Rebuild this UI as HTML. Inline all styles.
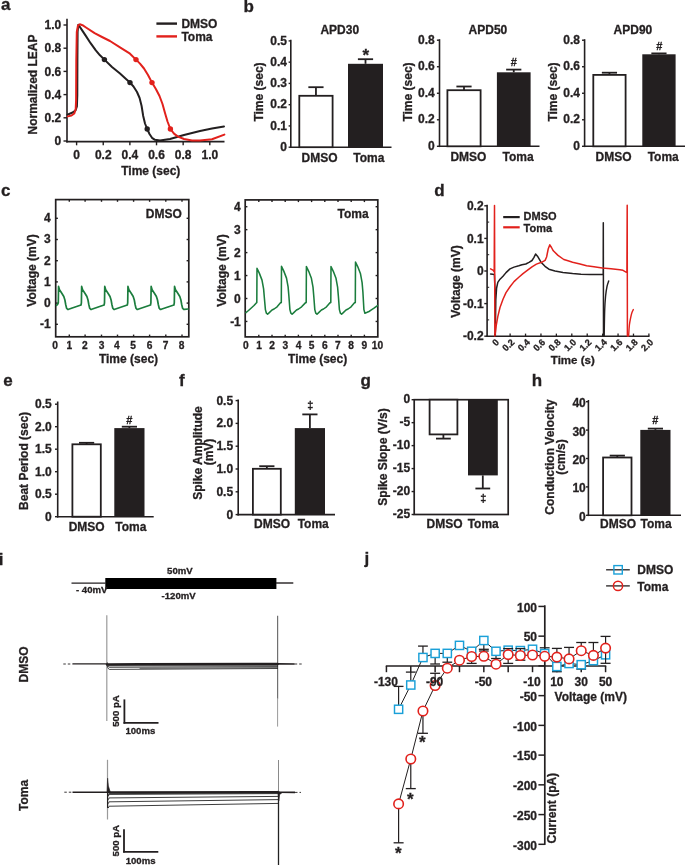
<!DOCTYPE html>
<html><head><meta charset="utf-8"><title>Figure</title>
<style>
html,body{margin:0;padding:0;background:#fff;}
body{width:685px;height:865px;overflow:hidden;}
svg{display:block;filter:blur(0.4px);font-family:"Liberation Sans",sans-serif;}
text{stroke:#231f20;stroke-width:0.3px;paint-order:stroke;}
</style></head><body>
<svg width="685" height="865" viewBox="0 0 685 865">
<rect width="685" height="865" fill="#fff"/>
<text x="1.1" y="9.8" font-size="17" text-anchor="start" font-weight="bold" fill="#231f20" >a</text>
<line x1="67" y1="18.8" x2="67" y2="142.4" stroke="#231f20" stroke-width="1.6" />
<line x1="66.2" y1="141.6" x2="224.5" y2="141.6" stroke="#231f20" stroke-width="1.6" />
<line x1="63.5" y1="141" x2="67" y2="141" stroke="#231f20" stroke-width="1.4" />
<text x="61.3" y="145.1" font-size="12" text-anchor="end" font-weight="bold" fill="#231f20" >0</text>
<line x1="63.5" y1="117.8" x2="67" y2="117.8" stroke="#231f20" stroke-width="1.4" />
<text x="61.3" y="121.9" font-size="12" text-anchor="end" font-weight="bold" fill="#231f20" >0.2</text>
<line x1="63.5" y1="94.6" x2="67" y2="94.6" stroke="#231f20" stroke-width="1.4" />
<text x="61.3" y="98.7" font-size="12" text-anchor="end" font-weight="bold" fill="#231f20" >0.4</text>
<line x1="63.5" y1="71.4" x2="67" y2="71.4" stroke="#231f20" stroke-width="1.4" />
<text x="61.3" y="75.5" font-size="12" text-anchor="end" font-weight="bold" fill="#231f20" >0.6</text>
<line x1="63.5" y1="48.2" x2="67" y2="48.2" stroke="#231f20" stroke-width="1.4" />
<text x="61.3" y="52.3" font-size="12" text-anchor="end" font-weight="bold" fill="#231f20" >0.8</text>
<line x1="63.5" y1="25" x2="67" y2="25" stroke="#231f20" stroke-width="1.4" />
<text x="61.3" y="29.1" font-size="12" text-anchor="end" font-weight="bold" fill="#231f20" >1.0</text>
<line x1="76.6" y1="141.6" x2="76.6" y2="145.3" stroke="#231f20" stroke-width="1.4" />
<text x="76.6" y="159.3" font-size="12" text-anchor="middle" font-weight="bold" fill="#231f20" >0</text>
<line x1="103.24" y1="141.6" x2="103.24" y2="145.3" stroke="#231f20" stroke-width="1.4" />
<text x="103.24" y="159.3" font-size="12" text-anchor="middle" font-weight="bold" fill="#231f20" >0.2</text>
<line x1="129.88" y1="141.6" x2="129.88" y2="145.3" stroke="#231f20" stroke-width="1.4" />
<text x="129.88" y="159.3" font-size="12" text-anchor="middle" font-weight="bold" fill="#231f20" >0.4</text>
<line x1="156.52" y1="141.6" x2="156.52" y2="145.3" stroke="#231f20" stroke-width="1.4" />
<text x="156.52" y="159.3" font-size="12" text-anchor="middle" font-weight="bold" fill="#231f20" >0.6</text>
<line x1="183.16" y1="141.6" x2="183.16" y2="145.3" stroke="#231f20" stroke-width="1.4" />
<text x="183.16" y="159.3" font-size="12" text-anchor="middle" font-weight="bold" fill="#231f20" >0.8</text>
<line x1="209.8" y1="141.6" x2="209.8" y2="145.3" stroke="#231f20" stroke-width="1.4" />
<text x="209.8" y="159.3" font-size="12" text-anchor="middle" font-weight="bold" fill="#231f20" >1.0</text>
<text x="150.8" y="175.2" font-size="12" text-anchor="middle" font-weight="bold" fill="#231f20" >Time (sec)</text>
<text x="37.3" y="84.5" font-size="12" text-anchor="middle" font-weight="bold" fill="#231f20" transform="rotate(-90 37.3 84.5)" >Normalized LEAP</text>
<polyline points="67.5,114.6 72,112.8 75.5,110.5 76.9,106.5 77.3,95 77.4,60 77.6,32 78.3,24.8 80,27.2 82.5,30.9 85.5,35.4 90.6,43.2 95.8,50.4 100,55.3 104.4,59.6 112,67 120,73.6 126,79 130,82.6 133.5,86.5 137,92 139.6,98 141.6,106 143.2,116 145,123.5 147.2,129 149.5,134 152,137.8 155,139.8 160,140.5 170,139 184,135 200,131 212,128.6 224,126.4" fill="none" stroke="#231f20" stroke-width="2.0" stroke-linejoin="round" stroke-linecap="round" />
<polyline points="67.8,116.4 71.5,115.5 74.3,113.5 75.7,109 76.1,100 76.3,60 76.8,32 78,25.5 79.8,24.3 82.5,25.2 86,27.5 94.6,33.2 102,37 110,41 120,47.3 130,53.7 136,59.6 140,63.6 144,68.5 148,75 152,82.6 156,89.2 159.5,96 162.5,104 165,113 167.5,121.5 170.4,129 174,133.6 178,136.6 184,139 192,140.4 200,140.6 212,139.2 224.4,134.6" fill="none" stroke="#e2211c" stroke-width="2.0" stroke-linejoin="round" stroke-linecap="round" />
<circle cx="104.4" cy="59.6" r="2.7" fill="#231f20" stroke="none" stroke-width="0"/>
<circle cx="130" cy="82.6" r="2.7" fill="#231f20" stroke="none" stroke-width="0"/>
<circle cx="147.2" cy="129" r="2.7" fill="#231f20" stroke="none" stroke-width="0"/>
<circle cx="136" cy="59.6" r="2.7" fill="#e2211c" stroke="none" stroke-width="0"/>
<circle cx="152" cy="82.6" r="2.7" fill="#e2211c" stroke="none" stroke-width="0"/>
<circle cx="170.4" cy="129" r="2.7" fill="#e2211c" stroke="none" stroke-width="0"/>
<line x1="156.4" y1="23.6" x2="177" y2="23.6" stroke="#231f20" stroke-width="2.4" />
<line x1="156.4" y1="36.4" x2="177" y2="36.4" stroke="#e2211c" stroke-width="2.4" />
<text x="181.4" y="27.6" font-size="12" text-anchor="start" font-weight="bold" fill="#231f20" >DMSO</text>
<text x="181.4" y="41" font-size="12" text-anchor="start" font-weight="bold" fill="#231f20" >Toma</text>
<text x="243.5" y="12.4" font-size="17" text-anchor="start" font-weight="bold" fill="#231f20" >b</text>
<line x1="290.8" y1="39.7" x2="290.8" y2="148" stroke="#231f20" stroke-width="1.6" />
<line x1="290" y1="147.2" x2="391.5" y2="147.2" stroke="#231f20" stroke-width="1.6" />
<line x1="288.6" y1="147.2" x2="290.8" y2="147.2" stroke="#231f20" stroke-width="1.4" />
<text x="286.9" y="150.9" font-size="12" text-anchor="end" font-weight="bold" fill="#231f20" >0</text>
<line x1="288.6" y1="125.94" x2="290.8" y2="125.94" stroke="#231f20" stroke-width="1.4" />
<text x="286.9" y="129.64" font-size="12" text-anchor="end" font-weight="bold" fill="#231f20" >0.1</text>
<line x1="288.6" y1="104.68" x2="290.8" y2="104.68" stroke="#231f20" stroke-width="1.4" />
<text x="286.9" y="108.38" font-size="12" text-anchor="end" font-weight="bold" fill="#231f20" >0.2</text>
<line x1="288.6" y1="83.42" x2="290.8" y2="83.42" stroke="#231f20" stroke-width="1.4" />
<text x="286.9" y="87.12" font-size="12" text-anchor="end" font-weight="bold" fill="#231f20" >0.3</text>
<line x1="288.6" y1="62.16" x2="290.8" y2="62.16" stroke="#231f20" stroke-width="1.4" />
<text x="286.9" y="65.86" font-size="12" text-anchor="end" font-weight="bold" fill="#231f20" >0.4</text>
<line x1="288.6" y1="40.9" x2="290.8" y2="40.9" stroke="#231f20" stroke-width="1.4" />
<text x="286.9" y="44.6" font-size="12" text-anchor="end" font-weight="bold" fill="#231f20" >0.5</text>
<line x1="315.95" y1="95.8" x2="315.95" y2="87.2" stroke="#231f20" stroke-width="1.8" />
<line x1="308.35" y1="87.2" x2="323.55" y2="87.2" stroke="#231f20" stroke-width="1.8" />
<rect x="299.3" y="95.8" width="33.3" height="51.4" fill="#fff" stroke="#231f20" stroke-width="1.8"/>
<line x1="365.5" y1="63.8" x2="365.5" y2="59.2" stroke="#231f20" stroke-width="1.8" />
<line x1="357.9" y1="59.2" x2="373.1" y2="59.2" stroke="#231f20" stroke-width="1.8" />
<rect x="348" y="63.8" width="35" height="83.4" fill="#231f20"/>
<text x="339.8" y="34.2" font-size="12" text-anchor="middle" font-weight="bold" fill="#231f20" >APD30</text>
<text x="263.2" y="92" font-size="12" text-anchor="middle" font-weight="bold" fill="#231f20" transform="rotate(-90 263.2 92)" >Time (sec)</text>
<text x="365.9" y="61.3" font-size="17" text-anchor="middle" font-weight="bold" fill="#231f20" >*</text>
<text x="319.6" y="162" font-size="12" text-anchor="middle" font-weight="bold" fill="#231f20" >DMSO</text>
<text x="368.8" y="162" font-size="12" text-anchor="middle" font-weight="bold" fill="#231f20" >Toma</text>
<line x1="439.5" y1="39.2" x2="439.5" y2="147.1" stroke="#231f20" stroke-width="1.6" />
<line x1="438.7" y1="146.3" x2="539.5" y2="146.3" stroke="#231f20" stroke-width="1.6" />
<line x1="436.9" y1="146.3" x2="439.5" y2="146.3" stroke="#231f20" stroke-width="1.4" />
<text x="434.7" y="150" font-size="12" text-anchor="end" font-weight="bold" fill="#231f20" >0</text>
<line x1="436.9" y1="119.78" x2="439.5" y2="119.78" stroke="#231f20" stroke-width="1.4" />
<text x="434.7" y="123.48" font-size="12" text-anchor="end" font-weight="bold" fill="#231f20" >0.2</text>
<line x1="436.9" y1="93.26" x2="439.5" y2="93.26" stroke="#231f20" stroke-width="1.4" />
<text x="434.7" y="96.96" font-size="12" text-anchor="end" font-weight="bold" fill="#231f20" >0.4</text>
<line x1="436.9" y1="66.74" x2="439.5" y2="66.74" stroke="#231f20" stroke-width="1.4" />
<text x="434.7" y="70.44" font-size="12" text-anchor="end" font-weight="bold" fill="#231f20" >0.6</text>
<line x1="436.9" y1="40.22" x2="439.5" y2="40.22" stroke="#231f20" stroke-width="1.4" />
<text x="434.7" y="43.92" font-size="12" text-anchor="end" font-weight="bold" fill="#231f20" >0.8</text>
<line x1="464" y1="90.2" x2="464" y2="86.5" stroke="#231f20" stroke-width="1.8" />
<line x1="456.4" y1="86.5" x2="471.6" y2="86.5" stroke="#231f20" stroke-width="1.8" />
<rect x="447.4" y="90.2" width="33.2" height="56.1" fill="#fff" stroke="#231f20" stroke-width="1.8"/>
<line x1="513.75" y1="72.3" x2="513.75" y2="69.6" stroke="#231f20" stroke-width="1.8" />
<line x1="506.15" y1="69.6" x2="521.35" y2="69.6" stroke="#231f20" stroke-width="1.8" />
<rect x="496.9" y="72.3" width="33.7" height="74" fill="#231f20"/>
<text x="487.9" y="34.2" font-size="12" text-anchor="middle" font-weight="bold" fill="#231f20" >APD50</text>
<text x="411.6" y="92" font-size="12" text-anchor="middle" font-weight="bold" fill="#231f20" transform="rotate(-90 411.6 92)" >Time (sec)</text>
<text x="513.7" y="65.6" font-size="11" text-anchor="middle" font-weight="bold" fill="#231f20" >#</text>
<text x="468.4" y="161" font-size="12" text-anchor="middle" font-weight="bold" fill="#231f20" >DMSO</text>
<text x="518.1" y="161" font-size="12" text-anchor="middle" font-weight="bold" fill="#231f20" >Toma</text>
<line x1="584.6" y1="39.2" x2="584.6" y2="147.1" stroke="#231f20" stroke-width="1.6" />
<line x1="583.8" y1="146.3" x2="685" y2="146.3" stroke="#231f20" stroke-width="1.6" />
<line x1="582" y1="146.3" x2="584.6" y2="146.3" stroke="#231f20" stroke-width="1.4" />
<text x="580" y="150" font-size="12" text-anchor="end" font-weight="bold" fill="#231f20" >0</text>
<line x1="582" y1="119.78" x2="584.6" y2="119.78" stroke="#231f20" stroke-width="1.4" />
<text x="580" y="123.48" font-size="12" text-anchor="end" font-weight="bold" fill="#231f20" >0.2</text>
<line x1="582" y1="93.26" x2="584.6" y2="93.26" stroke="#231f20" stroke-width="1.4" />
<text x="580" y="96.96" font-size="12" text-anchor="end" font-weight="bold" fill="#231f20" >0.4</text>
<line x1="582" y1="66.74" x2="584.6" y2="66.74" stroke="#231f20" stroke-width="1.4" />
<text x="580" y="70.44" font-size="12" text-anchor="end" font-weight="bold" fill="#231f20" >0.6</text>
<line x1="582" y1="40.22" x2="584.6" y2="40.22" stroke="#231f20" stroke-width="1.4" />
<text x="580" y="43.92" font-size="12" text-anchor="end" font-weight="bold" fill="#231f20" >0.8</text>
<line x1="609.45" y1="74.9" x2="609.45" y2="72.7" stroke="#231f20" stroke-width="1.8" />
<line x1="601.85" y1="72.7" x2="617.05" y2="72.7" stroke="#231f20" stroke-width="1.8" />
<rect x="593.3" y="74.9" width="32.3" height="71.4" fill="#fff" stroke="#231f20" stroke-width="1.8"/>
<line x1="658.95" y1="54.3" x2="658.95" y2="53.4" stroke="#231f20" stroke-width="1.8" />
<line x1="651.35" y1="53.4" x2="666.55" y2="53.4" stroke="#231f20" stroke-width="1.8" />
<rect x="642.3" y="54.3" width="33.3" height="92" fill="#231f20"/>
<text x="632.9" y="34.2" font-size="12" text-anchor="middle" font-weight="bold" fill="#231f20" >APD90</text>
<text x="557" y="92" font-size="12" text-anchor="middle" font-weight="bold" fill="#231f20" transform="rotate(-90 557 92)" >Time (sec)</text>
<text x="659.4" y="50" font-size="11" text-anchor="middle" font-weight="bold" fill="#231f20" >#</text>
<text x="613.6" y="161" font-size="12" text-anchor="middle" font-weight="bold" fill="#231f20" >DMSO</text>
<text x="663.2" y="161" font-size="12" text-anchor="middle" font-weight="bold" fill="#231f20" >Toma</text>
<text x="0.9" y="196.1" font-size="17" text-anchor="start" font-weight="bold" fill="#231f20" >c</text>
<rect x="55.7" y="199.6" width="133.1" height="137.2" fill="none" stroke="#231f20" stroke-width="1.7"/>
<line x1="55.7" y1="324.3" x2="57.9" y2="324.3" stroke="#231f20" stroke-width="1.4" />
<line x1="186.6" y1="324.3" x2="188.8" y2="324.3" stroke="#231f20" stroke-width="1.4" />
<line x1="55.7" y1="303.1" x2="57.9" y2="303.1" stroke="#231f20" stroke-width="1.4" />
<line x1="186.6" y1="303.1" x2="188.8" y2="303.1" stroke="#231f20" stroke-width="1.4" />
<line x1="55.7" y1="281.9" x2="57.9" y2="281.9" stroke="#231f20" stroke-width="1.4" />
<line x1="186.6" y1="281.9" x2="188.8" y2="281.9" stroke="#231f20" stroke-width="1.4" />
<line x1="55.7" y1="260.7" x2="57.9" y2="260.7" stroke="#231f20" stroke-width="1.4" />
<line x1="186.6" y1="260.7" x2="188.8" y2="260.7" stroke="#231f20" stroke-width="1.4" />
<line x1="55.7" y1="239.5" x2="57.9" y2="239.5" stroke="#231f20" stroke-width="1.4" />
<line x1="186.6" y1="239.5" x2="188.8" y2="239.5" stroke="#231f20" stroke-width="1.4" />
<line x1="55.7" y1="218.3" x2="57.9" y2="218.3" stroke="#231f20" stroke-width="1.4" />
<line x1="186.6" y1="218.3" x2="188.8" y2="218.3" stroke="#231f20" stroke-width="1.4" />
<line x1="69.3" y1="336.8" x2="69.3" y2="334.6" stroke="#231f20" stroke-width="1.4" />
<line x1="85.1" y1="336.8" x2="85.1" y2="334.6" stroke="#231f20" stroke-width="1.4" />
<line x1="101.5" y1="336.8" x2="101.5" y2="334.6" stroke="#231f20" stroke-width="1.4" />
<line x1="117.5" y1="336.8" x2="117.5" y2="334.6" stroke="#231f20" stroke-width="1.4" />
<line x1="133.6" y1="336.8" x2="133.6" y2="334.6" stroke="#231f20" stroke-width="1.4" />
<line x1="149.6" y1="336.8" x2="149.6" y2="334.6" stroke="#231f20" stroke-width="1.4" />
<line x1="165.8" y1="336.8" x2="165.8" y2="334.6" stroke="#231f20" stroke-width="1.4" />
<line x1="182" y1="336.8" x2="182" y2="334.6" stroke="#231f20" stroke-width="1.4" />
<line x1="69.3" y1="199.6" x2="69.3" y2="201.8" stroke="#231f20" stroke-width="1.4" />
<line x1="85.1" y1="199.6" x2="85.1" y2="201.8" stroke="#231f20" stroke-width="1.4" />
<line x1="101.5" y1="199.6" x2="101.5" y2="201.8" stroke="#231f20" stroke-width="1.4" />
<line x1="117.5" y1="199.6" x2="117.5" y2="201.8" stroke="#231f20" stroke-width="1.4" />
<line x1="133.6" y1="199.6" x2="133.6" y2="201.8" stroke="#231f20" stroke-width="1.4" />
<line x1="149.6" y1="199.6" x2="149.6" y2="201.8" stroke="#231f20" stroke-width="1.4" />
<line x1="165.8" y1="199.6" x2="165.8" y2="201.8" stroke="#231f20" stroke-width="1.4" />
<line x1="182" y1="199.6" x2="182" y2="201.8" stroke="#231f20" stroke-width="1.4" />
<text x="50.6" y="328.1" font-size="12" text-anchor="end" font-weight="bold" fill="#231f20" >-1</text>
<text x="50.6" y="306.9" font-size="12" text-anchor="end" font-weight="bold" fill="#231f20" >0</text>
<text x="50.6" y="285.7" font-size="12" text-anchor="end" font-weight="bold" fill="#231f20" >1</text>
<text x="50.6" y="264.5" font-size="12" text-anchor="end" font-weight="bold" fill="#231f20" >2</text>
<text x="50.6" y="243.3" font-size="12" text-anchor="end" font-weight="bold" fill="#231f20" >3</text>
<text x="50.6" y="222.1" font-size="12" text-anchor="end" font-weight="bold" fill="#231f20" >4</text>
<text x="55.2" y="348.7" font-size="10.2" text-anchor="middle" font-weight="bold" fill="#231f20" >0</text>
<text x="69.4" y="348.7" font-size="10.2" text-anchor="middle" font-weight="bold" fill="#231f20" >1</text>
<text x="84.8" y="348.7" font-size="10.2" text-anchor="middle" font-weight="bold" fill="#231f20" >2</text>
<text x="101.6" y="348.7" font-size="10.2" text-anchor="middle" font-weight="bold" fill="#231f20" >3</text>
<text x="116.9" y="348.7" font-size="10.2" text-anchor="middle" font-weight="bold" fill="#231f20" >4</text>
<text x="133.2" y="348.7" font-size="10.2" text-anchor="middle" font-weight="bold" fill="#231f20" >5</text>
<text x="149.6" y="348.7" font-size="10.2" text-anchor="middle" font-weight="bold" fill="#231f20" >6</text>
<text x="165.6" y="348.7" font-size="10.2" text-anchor="middle" font-weight="bold" fill="#231f20" >7</text>
<text x="181.7" y="348.7" font-size="10.2" text-anchor="middle" font-weight="bold" fill="#231f20" >8</text>
<text x="128.5" y="362.6" font-size="12" text-anchor="middle" font-weight="bold" fill="#231f20" >Time (sec)</text>
<text x="36.3" y="270.5" font-size="12" text-anchor="middle" font-weight="bold" fill="#231f20" transform="rotate(-90 36.3 270.5)" >Voltage (mV)</text>
<text x="181.8" y="217.9" font-size="12" text-anchor="end" font-weight="bold" fill="#231f20" >DMSO</text>
<polyline points="56.6,305.4 57.6,304.3 58.3,302.8 58.55,286.4 59.5,289.8 61.8,293.2 63.8,296.5 64.9,300 65.7,304.5 66.6,308.2 67.7,309.4 68.6,309.3 81,305 81.4,302.8 81.65,286.4 82.6,289.8 84.9,293.2 86.9,296.5 88,300 88.8,304.5 89.7,308.2 90.8,309.4 91.7,309.3 104.1,305 104.5,302.8 104.75,286.4 105.7,289.8 108,293.2 110,296.5 111.1,300 111.9,304.5 112.8,308.2 113.9,309.4 114.8,309.3 127.3,305 127.7,302.8 127.95,286.4 128.9,289.8 131.2,293.2 133.2,296.5 134.3,300 135.1,304.5 136,308.2 137.1,309.4 138,309.3 150.5,305 150.9,302.8 151.15,286.4 152.1,289.8 154.4,293.2 156.4,296.5 157.5,300 158.3,304.5 159.2,308.2 160.3,309.4 161.2,309.3 173.9,305 174.3,302.8 174.55,286.4 175.5,289.8 177.8,293.2 179.8,296.5 180.9,300 181.7,304.5 182.6,308.2 183.7,309.4 184.6,309.3 188,309" fill="none" stroke="#1b7d3d" stroke-width="1.7" stroke-linejoin="round" stroke-linecap="round" />
<rect x="245.2" y="199.9" width="132.6" height="137" fill="none" stroke="#231f20" stroke-width="1.7"/>
<line x1="245.2" y1="321.45" x2="247.4" y2="321.45" stroke="#231f20" stroke-width="1.4" />
<line x1="375.6" y1="321.45" x2="377.8" y2="321.45" stroke="#231f20" stroke-width="1.4" />
<line x1="245.2" y1="298.5" x2="247.4" y2="298.5" stroke="#231f20" stroke-width="1.4" />
<line x1="375.6" y1="298.5" x2="377.8" y2="298.5" stroke="#231f20" stroke-width="1.4" />
<line x1="245.2" y1="275.55" x2="247.4" y2="275.55" stroke="#231f20" stroke-width="1.4" />
<line x1="375.6" y1="275.55" x2="377.8" y2="275.55" stroke="#231f20" stroke-width="1.4" />
<line x1="245.2" y1="252.6" x2="247.4" y2="252.6" stroke="#231f20" stroke-width="1.4" />
<line x1="375.6" y1="252.6" x2="377.8" y2="252.6" stroke="#231f20" stroke-width="1.4" />
<line x1="245.2" y1="229.65" x2="247.4" y2="229.65" stroke="#231f20" stroke-width="1.4" />
<line x1="375.6" y1="229.65" x2="377.8" y2="229.65" stroke="#231f20" stroke-width="1.4" />
<line x1="245.2" y1="206.7" x2="247.4" y2="206.7" stroke="#231f20" stroke-width="1.4" />
<line x1="375.6" y1="206.7" x2="377.8" y2="206.7" stroke="#231f20" stroke-width="1.4" />
<line x1="258.8" y1="336.9" x2="258.8" y2="334.7" stroke="#231f20" stroke-width="1.4" />
<line x1="272" y1="336.9" x2="272" y2="334.7" stroke="#231f20" stroke-width="1.4" />
<line x1="285.2" y1="336.9" x2="285.2" y2="334.7" stroke="#231f20" stroke-width="1.4" />
<line x1="298.4" y1="336.9" x2="298.4" y2="334.7" stroke="#231f20" stroke-width="1.4" />
<line x1="311.6" y1="336.9" x2="311.6" y2="334.7" stroke="#231f20" stroke-width="1.4" />
<line x1="324.8" y1="336.9" x2="324.8" y2="334.7" stroke="#231f20" stroke-width="1.4" />
<line x1="338" y1="336.9" x2="338" y2="334.7" stroke="#231f20" stroke-width="1.4" />
<line x1="351.2" y1="336.9" x2="351.2" y2="334.7" stroke="#231f20" stroke-width="1.4" />
<line x1="364.4" y1="336.9" x2="364.4" y2="334.7" stroke="#231f20" stroke-width="1.4" />
<line x1="258.8" y1="199.9" x2="258.8" y2="202.1" stroke="#231f20" stroke-width="1.4" />
<line x1="272" y1="199.9" x2="272" y2="202.1" stroke="#231f20" stroke-width="1.4" />
<line x1="285.2" y1="199.9" x2="285.2" y2="202.1" stroke="#231f20" stroke-width="1.4" />
<line x1="298.4" y1="199.9" x2="298.4" y2="202.1" stroke="#231f20" stroke-width="1.4" />
<line x1="311.6" y1="199.9" x2="311.6" y2="202.1" stroke="#231f20" stroke-width="1.4" />
<line x1="324.8" y1="199.9" x2="324.8" y2="202.1" stroke="#231f20" stroke-width="1.4" />
<line x1="338" y1="199.9" x2="338" y2="202.1" stroke="#231f20" stroke-width="1.4" />
<line x1="351.2" y1="199.9" x2="351.2" y2="202.1" stroke="#231f20" stroke-width="1.4" />
<line x1="364.4" y1="199.9" x2="364.4" y2="202.1" stroke="#231f20" stroke-width="1.4" />
<text x="240.8" y="325.55" font-size="12" text-anchor="end" font-weight="bold" fill="#231f20" >-1</text>
<text x="240.8" y="302.6" font-size="12" text-anchor="end" font-weight="bold" fill="#231f20" >0</text>
<text x="240.8" y="279.65" font-size="12" text-anchor="end" font-weight="bold" fill="#231f20" >1</text>
<text x="240.8" y="256.7" font-size="12" text-anchor="end" font-weight="bold" fill="#231f20" >2</text>
<text x="240.8" y="233.75" font-size="12" text-anchor="end" font-weight="bold" fill="#231f20" >3</text>
<text x="240.8" y="210.8" font-size="12" text-anchor="end" font-weight="bold" fill="#231f20" >4</text>
<text x="245.9" y="349" font-size="10.2" text-anchor="middle" font-weight="bold" fill="#231f20" >0</text>
<text x="259.05" y="349" font-size="10.2" text-anchor="middle" font-weight="bold" fill="#231f20" >1</text>
<text x="272.2" y="349" font-size="10.2" text-anchor="middle" font-weight="bold" fill="#231f20" >2</text>
<text x="285.35" y="349" font-size="10.2" text-anchor="middle" font-weight="bold" fill="#231f20" >3</text>
<text x="298.5" y="349" font-size="10.2" text-anchor="middle" font-weight="bold" fill="#231f20" >4</text>
<text x="311.65" y="349" font-size="10.2" text-anchor="middle" font-weight="bold" fill="#231f20" >5</text>
<text x="324.8" y="349" font-size="10.2" text-anchor="middle" font-weight="bold" fill="#231f20" >6</text>
<text x="337.95" y="349" font-size="10.2" text-anchor="middle" font-weight="bold" fill="#231f20" >7</text>
<text x="351.1" y="349" font-size="10.2" text-anchor="middle" font-weight="bold" fill="#231f20" >8</text>
<text x="364.25" y="349" font-size="10.2" text-anchor="middle" font-weight="bold" fill="#231f20" >9</text>
<text x="377.4" y="349" font-size="10.2" text-anchor="middle" font-weight="bold" fill="#231f20" >10</text>
<text x="317.6" y="363.4" font-size="12" text-anchor="middle" font-weight="bold" fill="#231f20" >Time (sec)</text>
<text x="226" y="270.5" font-size="12" text-anchor="middle" font-weight="bold" fill="#231f20" transform="rotate(-90 226 270.5)" >Voltage (mV)</text>
<text x="368.6" y="217.9" font-size="12" text-anchor="end" font-weight="bold" fill="#231f20" >Toma</text>
<polyline points="245.9,312.6 248.5,310.5 251,308.2 254,305.5 256.3,302.9 256.8,302.6 257,268.3 259.3,273.1 262,280.1 263.6,288.9 264.4,298.3 265.4,309.6 266.4,313.2 267.6,314.2 269.3,312.6 272,310 274.1,309 277.1,306.8 280.7,302.6 281.3,302.6 281.5,266.3 283.8,271.1 286.5,278.1 288.1,286.9 288.9,296.3 289.9,309.6 290.9,313.2 292.1,314.2 293.8,312.6 296.5,310 298.6,309 301.6,306.8 305.6,302.6 306.2,302.6 306.4,266.5 308.7,271.3 311.4,278.3 313,287.1 313.8,296.5 314.8,309.6 315.8,313.2 317,314.2 318.7,312.6 321.4,310 323.5,309 326.5,306.8 330.2,302.6 330.8,302.6 331,266.5 333.3,271.3 336,278.3 337.6,287.1 338.4,296.5 339.4,309.6 340.4,313.2 341.6,314.2 343.3,312.6 346,310 348.1,309 351.1,306.8 354.7,302.6 355.3,302.6 355.5,262 357.8,266.8 360.5,273.8 362.1,282.6 362.9,292 363.9,309.6 364.9,313.2 367.2,312.3 369,311.5 371,310.2 374,308.2 377.5,305.6" fill="none" stroke="#1b7d3d" stroke-width="1.55" stroke-linejoin="round" stroke-linecap="round" />
<text x="434.2" y="195.5" font-size="17" text-anchor="start" font-weight="bold" fill="#231f20" >d</text>
<line x1="487.1" y1="204.8" x2="487.1" y2="337" stroke="#231f20" stroke-width="1.6" />
<line x1="486.3" y1="336.2" x2="649.5" y2="336.2" stroke="#231f20" stroke-width="1.6" />
<line x1="484.3" y1="205.8" x2="487.1" y2="205.8" stroke="#231f20" stroke-width="1.4" />
<text x="483.6" y="209.9" font-size="12" text-anchor="end" font-weight="bold" fill="#231f20" >0.2</text>
<line x1="484.3" y1="238.4" x2="487.1" y2="238.4" stroke="#231f20" stroke-width="1.4" />
<text x="483.6" y="242.5" font-size="12" text-anchor="end" font-weight="bold" fill="#231f20" >0.1</text>
<line x1="484.3" y1="271" x2="487.1" y2="271" stroke="#231f20" stroke-width="1.4" />
<text x="483.6" y="275.1" font-size="12" text-anchor="end" font-weight="bold" fill="#231f20" >0</text>
<line x1="484.3" y1="303.6" x2="487.1" y2="303.6" stroke="#231f20" stroke-width="1.4" />
<text x="483.6" y="307.7" font-size="12" text-anchor="end" font-weight="bold" fill="#231f20" >-0.1</text>
<line x1="484.3" y1="336.2" x2="487.1" y2="336.2" stroke="#231f20" stroke-width="1.4" />
<text x="483.6" y="340.3" font-size="12" text-anchor="end" font-weight="bold" fill="#231f20" >-0.2</text>
<line x1="487.1" y1="222.1" x2="489.2" y2="222.1" stroke="#231f20" stroke-width="1.0" />
<line x1="487.1" y1="254.7" x2="489.2" y2="254.7" stroke="#231f20" stroke-width="1.0" />
<line x1="487.1" y1="287.3" x2="489.2" y2="287.3" stroke="#231f20" stroke-width="1.0" />
<line x1="487.1" y1="319.9" x2="489.2" y2="319.9" stroke="#231f20" stroke-width="1.0" />
<line x1="494.7" y1="336.2" x2="494.7" y2="333.6" stroke="#231f20" stroke-width="1.3" />
<text x="499.7" y="342.8" font-size="9.2" text-anchor="end" font-weight="bold" fill="#231f20" transform="rotate(-45 499.7 342.8)" >0</text>
<line x1="510.12" y1="336.2" x2="510.12" y2="333.6" stroke="#231f20" stroke-width="1.3" />
<text x="515.12" y="342.8" font-size="9.2" text-anchor="end" font-weight="bold" fill="#231f20" transform="rotate(-45 515.12 342.8)" >0.2</text>
<line x1="525.54" y1="336.2" x2="525.54" y2="333.6" stroke="#231f20" stroke-width="1.3" />
<text x="530.54" y="342.8" font-size="9.2" text-anchor="end" font-weight="bold" fill="#231f20" transform="rotate(-45 530.54 342.8)" >0.4</text>
<line x1="540.96" y1="336.2" x2="540.96" y2="333.6" stroke="#231f20" stroke-width="1.3" />
<text x="545.96" y="342.8" font-size="9.2" text-anchor="end" font-weight="bold" fill="#231f20" transform="rotate(-45 545.96 342.8)" >0.6</text>
<line x1="556.38" y1="336.2" x2="556.38" y2="333.6" stroke="#231f20" stroke-width="1.3" />
<text x="561.38" y="342.8" font-size="9.2" text-anchor="end" font-weight="bold" fill="#231f20" transform="rotate(-45 561.38 342.8)" >0.8</text>
<line x1="571.8" y1="336.2" x2="571.8" y2="333.6" stroke="#231f20" stroke-width="1.3" />
<text x="576.8" y="342.8" font-size="9.2" text-anchor="end" font-weight="bold" fill="#231f20" transform="rotate(-45 576.8 342.8)" >1.0</text>
<line x1="587.22" y1="336.2" x2="587.22" y2="333.6" stroke="#231f20" stroke-width="1.3" />
<text x="592.22" y="342.8" font-size="9.2" text-anchor="end" font-weight="bold" fill="#231f20" transform="rotate(-45 592.22 342.8)" >1.2</text>
<line x1="602.64" y1="336.2" x2="602.64" y2="333.6" stroke="#231f20" stroke-width="1.3" />
<text x="607.64" y="342.8" font-size="9.2" text-anchor="end" font-weight="bold" fill="#231f20" transform="rotate(-45 607.64 342.8)" >1.4</text>
<line x1="618.06" y1="336.2" x2="618.06" y2="333.6" stroke="#231f20" stroke-width="1.3" />
<text x="623.06" y="342.8" font-size="9.2" text-anchor="end" font-weight="bold" fill="#231f20" transform="rotate(-45 623.06 342.8)" >1.6</text>
<line x1="633.48" y1="336.2" x2="633.48" y2="333.6" stroke="#231f20" stroke-width="1.3" />
<text x="638.48" y="342.8" font-size="9.2" text-anchor="end" font-weight="bold" fill="#231f20" transform="rotate(-45 638.48 342.8)" >1.8</text>
<line x1="648.9" y1="336.2" x2="648.9" y2="333.6" stroke="#231f20" stroke-width="1.3" />
<text x="653.9" y="342.8" font-size="9.2" text-anchor="end" font-weight="bold" fill="#231f20" transform="rotate(-45 653.9 342.8)" >2.0</text>
<text x="572.8" y="363.6" font-size="11.5" text-anchor="middle" font-weight="bold" fill="#231f20" >Time (s)</text>
<text x="460.3" y="281.5" font-size="12" text-anchor="middle" font-weight="bold" fill="#231f20" transform="rotate(-90 460.3 281.5)" >Voltage (mV)</text>
<line x1="503.2" y1="217.1" x2="519.7" y2="217.1" stroke="#231f20" stroke-width="2.2" />
<line x1="503.2" y1="227.3" x2="519.7" y2="227.3" stroke="#e2211c" stroke-width="2.2" />
<text x="523.6" y="220.2" font-size="11" text-anchor="start" font-weight="bold" fill="#231f20" >DMSO</text>
<text x="523.6" y="232" font-size="11" text-anchor="start" font-weight="bold" fill="#231f20" >Toma</text>
<polyline points="490.6,273.9 494.4,274.6 495,290 495.3,336 495.8,300 496.6,288 497.8,282.4 500,279.2 503,276.3 506,272.6 510,268.9 514,267.1 518.8,265.8 522,264.8 525.8,264 529,262.4 532,260.5 534,257.4 535.6,254 537.5,256.2 541,262.2 545,266.3 548.9,269.2 555,271 563,272.6 572.6,273.6 581,274.2 590,274.5 602.5,274.5 603.2,274.5 603.3,222.8 603.5,336" fill="none" stroke="#231f20" stroke-width="1.5" stroke-linejoin="round" stroke-linecap="round" />
<path d="M604.2,336 C604.28,331.67 604.47,316.67 604.7,310 C604.93,303.33 605.22,299.92 605.6,296 C605.98,292.08 606.48,289 607,286.5 C607.52,284 608.42,281.92 608.7,281" fill="none" stroke="#231f20" stroke-width="1.4" stroke-linejoin="round" stroke-linecap="round" />
<polyline points="490.6,268.9 493.3,270.4 494.2,272 494.5,205.4 494.9,336 495.3,333 496.3,325 497.8,316.6 500,307.5 503,299.2 506,292.6 510,286.8 514,281.6 518.8,277.2 523,273.6 527.6,270.2 532,266.8 536.4,264.1 541.6,262.3 545.1,260.4 546.6,257 548.2,249 549.8,244.8 551.5,247.5 553.3,250.8 558,255.4 563.8,259.5 568,260.8 572.6,262.2 580,264 586.6,265.7 594,266.8 602.3,268 611,268.8 619.9,269.7 623,270.3 625.6,271.8 626.9,272.6 627.2,205.3 627.4,336" fill="none" stroke="#e2211c" stroke-width="1.5" stroke-linejoin="round" stroke-linecap="round" />
<path d="M628.6,336 C628.73,334.17 629.07,328 629.4,325 C629.73,322 630.2,320 630.6,318 C631,316 631.35,314.4 631.8,313 C632.25,311.6 633.05,310.17 633.3,309.6" fill="none" stroke="#e2211c" stroke-width="1.4" stroke-linejoin="round" stroke-linecap="round" />
<text x="3.3" y="386.2" font-size="17" text-anchor="start" font-weight="bold" fill="#231f20" >e</text>
<line x1="57.7" y1="401.5" x2="57.7" y2="517.5" stroke="#231f20" stroke-width="1.6" />
<line x1="56.9" y1="516.7" x2="153.7" y2="516.7" stroke="#231f20" stroke-width="1.6" />
<line x1="55" y1="516.7" x2="57.7" y2="516.7" stroke="#231f20" stroke-width="1.4" />
<text x="51.7" y="520.5" font-size="12" text-anchor="end" font-weight="bold" fill="#231f20" >0</text>
<line x1="55" y1="494.2" x2="57.7" y2="494.2" stroke="#231f20" stroke-width="1.4" />
<text x="51.7" y="498" font-size="12" text-anchor="end" font-weight="bold" fill="#231f20" >0.5</text>
<line x1="55" y1="471.7" x2="57.7" y2="471.7" stroke="#231f20" stroke-width="1.4" />
<text x="51.7" y="475.5" font-size="12" text-anchor="end" font-weight="bold" fill="#231f20" >1.0</text>
<line x1="55" y1="449.2" x2="57.7" y2="449.2" stroke="#231f20" stroke-width="1.4" />
<text x="51.7" y="453" font-size="12" text-anchor="end" font-weight="bold" fill="#231f20" >1.5</text>
<line x1="55" y1="426.7" x2="57.7" y2="426.7" stroke="#231f20" stroke-width="1.4" />
<text x="51.7" y="430.5" font-size="12" text-anchor="end" font-weight="bold" fill="#231f20" >2.0</text>
<line x1="55" y1="404.2" x2="57.7" y2="404.2" stroke="#231f20" stroke-width="1.4" />
<text x="51.7" y="408" font-size="12" text-anchor="end" font-weight="bold" fill="#231f20" >0.5</text>
<line x1="86.6" y1="444.3" x2="86.6" y2="442.8" stroke="#231f20" stroke-width="1.8" />
<line x1="79" y1="442.8" x2="94.2" y2="442.8" stroke="#231f20" stroke-width="1.8" />
<rect x="72.4" y="444.3" width="28.4" height="72.4" fill="#fff" stroke="#231f20" stroke-width="1.8"/>
<line x1="129.4" y1="428.1" x2="129.4" y2="426.7" stroke="#231f20" stroke-width="1.8" />
<line x1="121.8" y1="426.7" x2="137" y2="426.7" stroke="#231f20" stroke-width="1.8" />
<rect x="114.3" y="428.1" width="30.2" height="88.6" fill="#231f20"/>
<text x="28.2" y="460.9" font-size="12" text-anchor="middle" font-weight="bold" fill="#231f20" transform="rotate(-90 28.2 460.9)" >Beat Period (sec)</text>
<text x="129.3" y="423.6" font-size="11" text-anchor="middle" font-weight="bold" fill="#231f20" >#</text>
<text x="86.7" y="531" font-size="12" text-anchor="middle" font-weight="bold" fill="#231f20" >DMSO</text>
<text x="130.8" y="531" font-size="12" text-anchor="middle" font-weight="bold" fill="#231f20" >Toma</text>
<text x="178.9" y="385.8" font-size="17" text-anchor="start" font-weight="bold" fill="#231f20" >f</text>
<line x1="238.2" y1="399.5" x2="238.2" y2="515.4" stroke="#231f20" stroke-width="1.6" />
<line x1="237.4" y1="514.6" x2="335" y2="514.6" stroke="#231f20" stroke-width="1.6" />
<line x1="235.6" y1="514.6" x2="238.2" y2="514.6" stroke="#231f20" stroke-width="1.4" />
<text x="233.1" y="518.5" font-size="12" text-anchor="end" font-weight="bold" fill="#231f20" >0</text>
<line x1="235.6" y1="491.8" x2="238.2" y2="491.8" stroke="#231f20" stroke-width="1.4" />
<text x="233.1" y="495.7" font-size="12" text-anchor="end" font-weight="bold" fill="#231f20" >0.5</text>
<line x1="235.6" y1="469" x2="238.2" y2="469" stroke="#231f20" stroke-width="1.4" />
<text x="233.1" y="472.9" font-size="12" text-anchor="end" font-weight="bold" fill="#231f20" >1.0</text>
<line x1="235.6" y1="446.2" x2="238.2" y2="446.2" stroke="#231f20" stroke-width="1.4" />
<text x="233.1" y="450.1" font-size="12" text-anchor="end" font-weight="bold" fill="#231f20" >1.5</text>
<line x1="235.6" y1="423.4" x2="238.2" y2="423.4" stroke="#231f20" stroke-width="1.4" />
<text x="233.1" y="427.3" font-size="12" text-anchor="end" font-weight="bold" fill="#231f20" >2.0</text>
<line x1="235.6" y1="400.6" x2="238.2" y2="400.6" stroke="#231f20" stroke-width="1.4" />
<text x="233.1" y="404.5" font-size="12" text-anchor="end" font-weight="bold" fill="#231f20" >0.5</text>
<line x1="266.85" y1="468.8" x2="266.85" y2="466.2" stroke="#231f20" stroke-width="1.8" />
<line x1="259.25" y1="466.2" x2="274.45" y2="466.2" stroke="#231f20" stroke-width="1.8" />
<rect x="252.9" y="468.8" width="27.9" height="45.8" fill="#fff" stroke="#231f20" stroke-width="1.8"/>
<line x1="309.9" y1="428.1" x2="309.9" y2="414.4" stroke="#231f20" stroke-width="1.8" />
<line x1="302.3" y1="414.4" x2="317.5" y2="414.4" stroke="#231f20" stroke-width="1.8" />
<rect x="294.8" y="428.1" width="30.2" height="86.5" fill="#231f20"/>
<text x="201.5" y="453" font-size="12" text-anchor="middle" font-weight="bold" fill="#231f20" transform="rotate(-90 201.5 453)" >Spike Amplitude</text>
<text x="213.3" y="452" font-size="12" text-anchor="middle" font-weight="bold" fill="#231f20" transform="rotate(-90 213.3 452)" >(mV)</text>
<text x="310.4" y="408.5" font-size="11" text-anchor="middle" font-weight="bold" fill="#231f20" >&#8225;</text>
<text x="272" y="528.4" font-size="12" text-anchor="middle" font-weight="bold" fill="#231f20" >DMSO</text>
<text x="313.2" y="528.4" font-size="12" text-anchor="middle" font-weight="bold" fill="#231f20" >Toma</text>
<text x="360.5" y="386" font-size="17" text-anchor="start" font-weight="bold" fill="#231f20" >g</text>
<rect x="414.2" y="399.7" width="94.0" height="114.8" fill="none" stroke="#231f20" stroke-width="1.7"/>
<line x1="411.6" y1="399.7" x2="414.2" y2="399.7" stroke="#231f20" stroke-width="1.4" />
<text x="410.2" y="403" font-size="12" text-anchor="end" font-weight="bold" fill="#231f20" >0</text>
<line x1="411.6" y1="422.66" x2="414.2" y2="422.66" stroke="#231f20" stroke-width="1.4" />
<text x="410.2" y="425.96" font-size="12" text-anchor="end" font-weight="bold" fill="#231f20" >-5</text>
<line x1="411.6" y1="445.62" x2="414.2" y2="445.62" stroke="#231f20" stroke-width="1.4" />
<text x="410.2" y="448.92" font-size="12" text-anchor="end" font-weight="bold" fill="#231f20" >-10</text>
<line x1="411.6" y1="468.58" x2="414.2" y2="468.58" stroke="#231f20" stroke-width="1.4" />
<text x="410.2" y="471.88" font-size="12" text-anchor="end" font-weight="bold" fill="#231f20" >-15</text>
<line x1="411.6" y1="491.54" x2="414.2" y2="491.54" stroke="#231f20" stroke-width="1.4" />
<text x="410.2" y="494.84" font-size="12" text-anchor="end" font-weight="bold" fill="#231f20" >-20</text>
<line x1="411.6" y1="514.5" x2="414.2" y2="514.5" stroke="#231f20" stroke-width="1.4" />
<text x="410.2" y="517.8" font-size="12" text-anchor="end" font-weight="bold" fill="#231f20" >-25</text>
<line x1="443.4" y1="434.6" x2="443.4" y2="438.6" stroke="#231f20" stroke-width="1.8" />
<line x1="436" y1="438.6" x2="450.8" y2="438.6" stroke="#231f20" stroke-width="1.8" />
<rect x="429.6" y="399.7" width="27.8" height="34.7" fill="#fff" stroke="#231f20" stroke-width="1.8"/>
<line x1="482.8" y1="475.4" x2="482.8" y2="488.5" stroke="#231f20" stroke-width="1.8" />
<line x1="475.4" y1="488.5" x2="490.2" y2="488.5" stroke="#231f20" stroke-width="1.8" />
<rect x="468" y="399.7" width="29.8" height="75.7" fill="#231f20"/>
<text x="483.2" y="502.2" font-size="11" text-anchor="middle" font-weight="bold" fill="#231f20" >&#8225;</text>
<text x="444.6" y="527.8" font-size="12" text-anchor="middle" font-weight="bold" fill="#231f20" >DMSO</text>
<text x="483.2" y="527.8" font-size="12" text-anchor="middle" font-weight="bold" fill="#231f20" >Toma</text>
<text x="386.8" y="457" font-size="12" text-anchor="middle" font-weight="bold" fill="#231f20" transform="rotate(-90 386.8 457)" >Spike Slope (V/s)</text>
<text x="531.8" y="386" font-size="17" text-anchor="start" font-weight="bold" fill="#231f20" >h</text>
<line x1="588.4" y1="400" x2="588.4" y2="516.1" stroke="#231f20" stroke-width="1.6" />
<line x1="587.6" y1="515.3" x2="681" y2="515.3" stroke="#231f20" stroke-width="1.6" />
<line x1="586" y1="515.3" x2="588.4" y2="515.3" stroke="#231f20" stroke-width="1.4" />
<text x="585.8" y="520.7" font-size="12" text-anchor="end" font-weight="bold" fill="#231f20" >0</text>
<line x1="586" y1="486.9" x2="588.4" y2="486.9" stroke="#231f20" stroke-width="1.4" />
<text x="585.8" y="492.3" font-size="12" text-anchor="end" font-weight="bold" fill="#231f20" >10</text>
<line x1="586" y1="458.5" x2="588.4" y2="458.5" stroke="#231f20" stroke-width="1.4" />
<text x="585.8" y="463.9" font-size="12" text-anchor="end" font-weight="bold" fill="#231f20" >20</text>
<line x1="586" y1="430.1" x2="588.4" y2="430.1" stroke="#231f20" stroke-width="1.4" />
<text x="585.8" y="435.5" font-size="12" text-anchor="end" font-weight="bold" fill="#231f20" >30</text>
<line x1="586" y1="401.7" x2="588.4" y2="401.7" stroke="#231f20" stroke-width="1.4" />
<text x="585.8" y="407.1" font-size="12" text-anchor="end" font-weight="bold" fill="#231f20" >40</text>
<line x1="617.3" y1="457.5" x2="617.3" y2="455.6" stroke="#231f20" stroke-width="1.8" />
<line x1="609.7" y1="455.6" x2="624.9" y2="455.6" stroke="#231f20" stroke-width="1.8" />
<rect x="603.1" y="457.5" width="28.4" height="57.8" fill="#fff" stroke="#231f20" stroke-width="1.8"/>
<line x1="655.4" y1="429.9" x2="655.4" y2="428.6" stroke="#231f20" stroke-width="1.8" />
<line x1="647.8" y1="428.6" x2="663" y2="428.6" stroke="#231f20" stroke-width="1.8" />
<rect x="640.3" y="429.9" width="30.2" height="85.4" fill="#231f20"/>
<text x="554" y="457" font-size="12" text-anchor="middle" font-weight="bold" fill="#231f20" transform="rotate(-90 554 457)" >Conduction Velocity</text>
<text x="564.8" y="457" font-size="12" text-anchor="middle" font-weight="bold" fill="#231f20" transform="rotate(-90 564.8 457)" >(cm/s)</text>
<text x="655.3" y="424.2" font-size="11" text-anchor="middle" font-weight="bold" fill="#231f20" >#</text>
<text x="618" y="527.6" font-size="12" text-anchor="middle" font-weight="bold" fill="#231f20" >DMSO</text>
<text x="656" y="527.6" font-size="12" text-anchor="middle" font-weight="bold" fill="#231f20" >Toma</text>
<text x="-1.2" y="565" font-size="17" text-anchor="start" font-weight="bold" fill="#231f20" >i</text>
<line x1="71.5" y1="583.1" x2="105.5" y2="583.1" stroke="#231f20" stroke-width="1.4" />
<rect x="105.3" y="578.0" width="171.1" height="11.0" fill="#000"/>
<line x1="276" y1="583" x2="293.3" y2="583" stroke="#231f20" stroke-width="1.4" />
<text x="179.9" y="574.1" font-size="9.6" text-anchor="middle" font-weight="bold" fill="#231f20" >50mV</text>
<text x="178.6" y="599.2" font-size="9.6" text-anchor="middle" font-weight="bold" fill="#231f20" >-120mV</text>
<text x="76" y="593.4" font-size="9.6" text-anchor="start" font-weight="bold" fill="#231f20" >- 40mV</text>
<line x1="106.8" y1="615.3" x2="106.8" y2="720.9" stroke="#9a9a9a" stroke-width="1.2" />
<line x1="277.6" y1="615.8" x2="277.6" y2="698.7" stroke="#707070" stroke-width="1.2" />
<line x1="277.6" y1="698.7" x2="277.6" y2="726.6" stroke="#9a9a9a" stroke-width="1.0" />
<line x1="63.3" y1="664.0" x2="72.5" y2="664.0" stroke="#231f20" stroke-width="0.9" stroke-dasharray="2.5,2"/>
<line x1="72.5" y1="663.8" x2="106.8" y2="663.8" stroke="#231f20" stroke-width="1.3" />
<path d="M107.4,666.4 Q108,670.1999999999999 111,669.4 L277.6,668.5" fill="none" stroke="#1a1a1a" stroke-width="0.8" stroke-linejoin="round" stroke-linecap="round" />
<path d="M107.4,664.3 Q108,668.0999999999999 111,667.3 L277.6,666.7" fill="none" stroke="#1a1a1a" stroke-width="0.8" stroke-linejoin="round" stroke-linecap="round" />
<path d="M107.4,662.8 Q108,666.5999999999999 111,665.8 L277.6,665.8" fill="none" stroke="#1a1a1a" stroke-width="0.8" stroke-linejoin="round" stroke-linecap="round" />
<path d="M140,668.4 L277.6,667.6" fill="none" stroke="#333" stroke-width="0.7" stroke-linejoin="round" stroke-linecap="round" />
<path d="M107.0,664.5 L140,664.3 L277.6,663.9" fill="none" stroke="#231f20" stroke-width="2.5" stroke-linejoin="round" stroke-linecap="round" />
<line x1="277.6" y1="663.9" x2="294.7" y2="664" stroke="#231f20" stroke-width="1.6" />
<line x1="294.7" y1="664.0" x2="303.6" y2="664.0" stroke="#231f20" stroke-width="0.9" stroke-dasharray="2.5,2"/>
<line x1="124.4" y1="699.4" x2="124.4" y2="723.7" stroke="#231f20" stroke-width="1.8" />
<line x1="123.5" y1="722.9" x2="158.5" y2="722.9" stroke="#231f20" stroke-width="1.8" />
<text x="118.6" y="711" font-size="9.6" text-anchor="middle" font-weight="bold" fill="#231f20" transform="rotate(-90 118.6 711)" >500 pA</text>
<text x="140.4" y="734.3" font-size="9.6" text-anchor="middle" font-weight="bold" fill="#231f20" >100ms</text>
<text x="28" y="664.5" font-size="12" text-anchor="middle" font-weight="bold" fill="#231f20" transform="rotate(-90 28 664.5)" >DMSO</text>
<line x1="107.5" y1="759.8" x2="107.5" y2="819.5" stroke="#9a9a9a" stroke-width="1.2" />
<line x1="278.5" y1="760" x2="278.5" y2="792" stroke="#8a8a8a" stroke-width="1.0" />
<line x1="278.5" y1="792" x2="278.5" y2="865" stroke="#222" stroke-width="1.3" />
<line x1="64.3" y1="792.2" x2="72.5" y2="792.2" stroke="#231f20" stroke-width="0.9" stroke-dasharray="2.5,2"/>
<line x1="72.5" y1="792.2" x2="107.5" y2="792.2" stroke="#231f20" stroke-width="1.5" />
<path d="M108.3,807.7 Q108.8,805.2 111,806.2 L278.5,803.4" fill="none" stroke="#1a1a1a" stroke-width="0.85" stroke-linejoin="round" stroke-linecap="round" />
<path d="M108.3,803.3 Q108.8,800.8 111,801.8 L278.5,799.6" fill="none" stroke="#1a1a1a" stroke-width="0.85" stroke-linejoin="round" stroke-linecap="round" />
<path d="M108.3,799.4 Q108.8,796.9 111,797.9 L278.5,796.4" fill="none" stroke="#1a1a1a" stroke-width="0.85" stroke-linejoin="round" stroke-linecap="round" />
<path d="M108.3,795.9 Q108.8,793.4 111,794.4 L278.5,793.6" fill="none" stroke="#1a1a1a" stroke-width="0.85" stroke-linejoin="round" stroke-linecap="round" />
<path d="M108.3,795.1 Q108.8,792.6 111,793.6 L278.5,793.0" fill="none" stroke="#1a1a1a" stroke-width="0.85" stroke-linejoin="round" stroke-linecap="round" />
<line x1="107.8" y1="792.2" x2="278.5" y2="792" stroke="#231f20" stroke-width="2.0" />
<path d="M107.0,792.5 L107.6,778.2 L108.4,786 L110.3,792 Z" fill="#231f20" stroke="#231f20" stroke-width="0.6" stroke-linejoin="round" stroke-linecap="round" />
<line x1="107.6" y1="792" x2="107.6" y2="808" stroke="#231f20" stroke-width="1.2" />
<path d="M278.2,791.2 L281.5,793.2 L279.6,794.5 L278.9,800.5 Z" fill="#231f20" stroke="#231f20" stroke-width="0.6" stroke-linejoin="round" stroke-linecap="round" />
<line x1="278.5" y1="792.2" x2="295" y2="792.4" stroke="#231f20" stroke-width="1.6" />
<line x1="295.0" y1="792.4" x2="301" y2="792.4" stroke="#231f20" stroke-width="0.9" stroke-dasharray="2.5,2"/>
<line x1="124" y1="829.3" x2="124" y2="852.6" stroke="#231f20" stroke-width="1.8" />
<line x1="123.1" y1="851.8" x2="158.3" y2="851.8" stroke="#231f20" stroke-width="1.8" />
<text x="118.6" y="840.7" font-size="9.6" text-anchor="middle" font-weight="bold" fill="#231f20" transform="rotate(-90 118.6 840.7)" >500 pA</text>
<text x="140.6" y="864.3" font-size="9.6" text-anchor="middle" font-weight="bold" fill="#231f20" >100ms</text>
<text x="28" y="795.5" font-size="12" text-anchor="middle" font-weight="bold" fill="#231f20" transform="rotate(-90 28 795.5)" >Toma</text>
<text x="364.4" y="564.3" font-size="17" text-anchor="start" font-weight="bold" fill="#231f20" >j</text>
<line x1="385.8" y1="666" x2="606.2" y2="666" stroke="#231f20" stroke-width="1.6" />
<line x1="544.8" y1="605.3" x2="544.8" y2="844.9" stroke="#231f20" stroke-width="1.7" />
<line x1="386.43" y1="666" x2="386.43" y2="672.2" stroke="#231f20" stroke-width="1.5" />
<line x1="410.78" y1="666" x2="410.78" y2="672.2" stroke="#231f20" stroke-width="1.5" />
<line x1="435.13" y1="666" x2="435.13" y2="672.2" stroke="#231f20" stroke-width="1.5" />
<line x1="459.48" y1="666" x2="459.48" y2="672.2" stroke="#231f20" stroke-width="1.5" />
<line x1="483.83" y1="666" x2="483.83" y2="672.2" stroke="#231f20" stroke-width="1.5" />
<line x1="508.18" y1="666" x2="508.18" y2="672.2" stroke="#231f20" stroke-width="1.5" />
<line x1="532.53" y1="666" x2="532.53" y2="672.2" stroke="#231f20" stroke-width="1.5" />
<line x1="556.88" y1="666" x2="556.88" y2="672.2" stroke="#231f20" stroke-width="1.5" />
<line x1="581.23" y1="666" x2="581.23" y2="672.2" stroke="#231f20" stroke-width="1.5" />
<line x1="605.58" y1="666" x2="605.58" y2="672.2" stroke="#231f20" stroke-width="1.5" />
<line x1="538.4" y1="844.31" x2="544.8" y2="844.31" stroke="#231f20" stroke-width="1.5" />
<text x="537" y="849.61" font-size="12" text-anchor="end" font-weight="bold" fill="#231f20" >-300</text>
<line x1="538.4" y1="814.58" x2="544.8" y2="814.58" stroke="#231f20" stroke-width="1.5" />
<text x="537" y="819.88" font-size="12" text-anchor="end" font-weight="bold" fill="#231f20" >-250</text>
<line x1="538.4" y1="784.84" x2="544.8" y2="784.84" stroke="#231f20" stroke-width="1.5" />
<text x="537" y="790.14" font-size="12" text-anchor="end" font-weight="bold" fill="#231f20" >-200</text>
<line x1="538.4" y1="755.11" x2="544.8" y2="755.11" stroke="#231f20" stroke-width="1.5" />
<text x="537" y="760.4" font-size="12" text-anchor="end" font-weight="bold" fill="#231f20" >-150</text>
<line x1="538.4" y1="725.37" x2="544.8" y2="725.37" stroke="#231f20" stroke-width="1.5" />
<text x="537" y="730.67" font-size="12" text-anchor="end" font-weight="bold" fill="#231f20" >-100</text>
<line x1="538.4" y1="695.63" x2="544.8" y2="695.63" stroke="#231f20" stroke-width="1.5" />
<text x="537" y="700.93" font-size="12" text-anchor="end" font-weight="bold" fill="#231f20" >-50</text>
<line x1="538.4" y1="665.9" x2="544.8" y2="665.9" stroke="#231f20" stroke-width="1.5" />
<line x1="538.4" y1="636.16" x2="544.8" y2="636.16" stroke="#231f20" stroke-width="1.5" />
<text x="537" y="641.46" font-size="12" text-anchor="end" font-weight="bold" fill="#231f20" >50</text>
<line x1="538.4" y1="606.43" x2="544.8" y2="606.43" stroke="#231f20" stroke-width="1.5" />
<text x="537" y="611.73" font-size="12" text-anchor="end" font-weight="bold" fill="#231f20" >100</text>
<text x="590.8" y="701" font-size="12" text-anchor="middle" font-weight="bold" fill="#231f20" >Voltage (mV)</text>
<text x="556.2" y="808.2" font-size="12" text-anchor="middle" font-weight="bold" fill="#231f20" transform="rotate(-90 556.2 808.2)" >Current (pA)</text>
<polyline points="398.6,709.3 410.78,685 422.95,657.5 435.13,653.4 447.3,653.4 459.48,645.4 471.65,651.3 483.83,640.5 496,651.3 508.18,650.2 520.35,650.6 532.53,649.3 544.7,653.6 556.88,666.5 569.05,663.5 581.23,664.7 593.4,660.6 605.58,654.8" fill="none" stroke="#231f20" stroke-width="1.0" stroke-linejoin="round" stroke-linecap="round" />
<line x1="398.6" y1="709.3" x2="398.6" y2="686.4" stroke="#231f20" stroke-width="1.2" />
<line x1="393.7" y1="686.4" x2="403.5" y2="686.4" stroke="#231f20" stroke-width="1.3" />
<line x1="410.78" y1="685" x2="410.78" y2="672.1" stroke="#231f20" stroke-width="1.2" />
<line x1="405.88" y1="672.1" x2="415.68" y2="672.1" stroke="#231f20" stroke-width="1.3" />
<line x1="422.95" y1="657.5" x2="422.95" y2="646.1" stroke="#231f20" stroke-width="1.2" />
<line x1="418.05" y1="646.1" x2="427.85" y2="646.1" stroke="#231f20" stroke-width="1.3" />
<line x1="435.13" y1="653.4" x2="435.13" y2="664" stroke="#231f20" stroke-width="1.2" />
<line x1="430.23" y1="664" x2="440.03" y2="664" stroke="#231f20" stroke-width="1.3" />
<line x1="447.3" y1="653.4" x2="447.3" y2="662.2" stroke="#231f20" stroke-width="1.2" />
<line x1="442.4" y1="662.2" x2="452.2" y2="662.2" stroke="#231f20" stroke-width="1.3" />
<line x1="483.83" y1="640.5" x2="483.83" y2="651" stroke="#231f20" stroke-width="1.2" />
<line x1="478.93" y1="651" x2="488.73" y2="651" stroke="#231f20" stroke-width="1.3" />
<line x1="496" y1="651.3" x2="496" y2="658.5" stroke="#231f20" stroke-width="1.2" />
<line x1="491.1" y1="658.5" x2="500.9" y2="658.5" stroke="#231f20" stroke-width="1.3" />
<line x1="544.7" y1="653.6" x2="544.7" y2="647.8" stroke="#231f20" stroke-width="1.2" />
<line x1="539.8" y1="647.8" x2="549.6" y2="647.8" stroke="#231f20" stroke-width="1.3" />
<line x1="556.88" y1="666.5" x2="556.88" y2="671.7" stroke="#231f20" stroke-width="1.2" />
<line x1="551.98" y1="671.7" x2="561.77" y2="671.7" stroke="#231f20" stroke-width="1.3" />
<line x1="581.23" y1="664.7" x2="581.23" y2="669.1" stroke="#231f20" stroke-width="1.2" />
<line x1="576.33" y1="669.1" x2="586.12" y2="669.1" stroke="#231f20" stroke-width="1.3" />
<rect x="394.5" y="705.2" width="8.2" height="8.2" fill="#fff" stroke="#1aa0d8" stroke-width="1.45"/>
<rect x="406.68" y="680.9" width="8.2" height="8.2" fill="#fff" stroke="#1aa0d8" stroke-width="1.45"/>
<rect x="418.85" y="653.4" width="8.2" height="8.2" fill="#fff" stroke="#1aa0d8" stroke-width="1.45"/>
<rect x="431.03" y="649.3" width="8.2" height="8.2" fill="#fff" stroke="#1aa0d8" stroke-width="1.45"/>
<rect x="443.2" y="649.3" width="8.2" height="8.2" fill="#fff" stroke="#1aa0d8" stroke-width="1.45"/>
<rect x="455.38" y="641.3" width="8.2" height="8.2" fill="#fff" stroke="#1aa0d8" stroke-width="1.45"/>
<rect x="467.55" y="647.2" width="8.2" height="8.2" fill="#fff" stroke="#1aa0d8" stroke-width="1.45"/>
<rect x="479.73" y="636.4" width="8.2" height="8.2" fill="#fff" stroke="#1aa0d8" stroke-width="1.45"/>
<rect x="491.9" y="647.2" width="8.2" height="8.2" fill="#fff" stroke="#1aa0d8" stroke-width="1.45"/>
<rect x="504.08" y="646.1" width="8.2" height="8.2" fill="#fff" stroke="#1aa0d8" stroke-width="1.45"/>
<rect x="516.25" y="646.5" width="8.2" height="8.2" fill="#fff" stroke="#1aa0d8" stroke-width="1.45"/>
<rect x="528.43" y="645.2" width="8.2" height="8.2" fill="#fff" stroke="#1aa0d8" stroke-width="1.45"/>
<rect x="540.6" y="649.5" width="8.2" height="8.2" fill="#fff" stroke="#1aa0d8" stroke-width="1.45"/>
<rect x="552.77" y="662.4" width="8.2" height="8.2" fill="#fff" stroke="#1aa0d8" stroke-width="1.45"/>
<rect x="564.95" y="659.4" width="8.2" height="8.2" fill="#fff" stroke="#1aa0d8" stroke-width="1.45"/>
<rect x="577.12" y="660.6" width="8.2" height="8.2" fill="#fff" stroke="#1aa0d8" stroke-width="1.45"/>
<rect x="589.3" y="656.5" width="8.2" height="8.2" fill="#fff" stroke="#1aa0d8" stroke-width="1.45"/>
<rect x="601.48" y="650.7" width="8.2" height="8.2" fill="#fff" stroke="#1aa0d8" stroke-width="1.45"/>
<polyline points="398.6,803.9 410.78,759 422.95,711 435.13,685.5 447.3,668.2 459.48,660.2 471.65,656.5 483.83,656.3 496,664.2 508.18,654.6 520.35,655.5 532.53,655 544.7,656.3 556.88,657.1 569.05,658.9 581.23,650.7 593.4,655.4 605.58,648.1" fill="none" stroke="#231f20" stroke-width="1.0" stroke-linejoin="round" stroke-linecap="round" />
<line x1="398.6" y1="803.9" x2="398.6" y2="842.8" stroke="#231f20" stroke-width="1.2" />
<line x1="393.6" y1="842.8" x2="403.6" y2="842.8" stroke="#231f20" stroke-width="1.3" />
<line x1="410.78" y1="759" x2="410.78" y2="788.6" stroke="#231f20" stroke-width="1.2" />
<line x1="405.78" y1="788.6" x2="415.78" y2="788.6" stroke="#231f20" stroke-width="1.3" />
<line x1="422.95" y1="711" x2="422.95" y2="733.3" stroke="#231f20" stroke-width="1.2" />
<line x1="417.95" y1="733.3" x2="427.95" y2="733.3" stroke="#231f20" stroke-width="1.3" />
<line x1="435.13" y1="685.5" x2="435.13" y2="673.3" stroke="#231f20" stroke-width="1.2" />
<line x1="430.13" y1="673.3" x2="440.13" y2="673.3" stroke="#231f20" stroke-width="1.3" />
<line x1="471.65" y1="656.5" x2="471.65" y2="663.4" stroke="#231f20" stroke-width="1.2" />
<line x1="466.65" y1="663.4" x2="476.65" y2="663.4" stroke="#231f20" stroke-width="1.3" />
<line x1="483.83" y1="656.3" x2="483.83" y2="649.3" stroke="#231f20" stroke-width="1.2" />
<line x1="478.83" y1="649.3" x2="488.83" y2="649.3" stroke="#231f20" stroke-width="1.3" />
<line x1="508.18" y1="654.6" x2="508.18" y2="648.6" stroke="#231f20" stroke-width="1.2" />
<line x1="503.18" y1="648.6" x2="513.18" y2="648.6" stroke="#231f20" stroke-width="1.3" />
<line x1="508.18" y1="654.6" x2="508.18" y2="663.4" stroke="#231f20" stroke-width="1.2" />
<line x1="503.18" y1="663.4" x2="513.18" y2="663.4" stroke="#231f20" stroke-width="1.3" />
<line x1="520.35" y1="655.5" x2="520.35" y2="648.6" stroke="#231f20" stroke-width="1.2" />
<line x1="515.35" y1="648.6" x2="525.35" y2="648.6" stroke="#231f20" stroke-width="1.3" />
<line x1="520.35" y1="655.5" x2="520.35" y2="660.2" stroke="#231f20" stroke-width="1.2" />
<line x1="515.35" y1="660.2" x2="525.35" y2="660.2" stroke="#231f20" stroke-width="1.3" />
<line x1="556.88" y1="657.1" x2="556.88" y2="648.4" stroke="#231f20" stroke-width="1.2" />
<line x1="551.88" y1="648.4" x2="561.88" y2="648.4" stroke="#231f20" stroke-width="1.3" />
<line x1="569.05" y1="658.9" x2="569.05" y2="647.4" stroke="#231f20" stroke-width="1.2" />
<line x1="564.05" y1="647.4" x2="574.05" y2="647.4" stroke="#231f20" stroke-width="1.3" />
<line x1="581.23" y1="650.7" x2="581.23" y2="642.5" stroke="#231f20" stroke-width="1.2" />
<line x1="576.23" y1="642.5" x2="586.23" y2="642.5" stroke="#231f20" stroke-width="1.3" />
<line x1="593.4" y1="655.4" x2="593.4" y2="642.5" stroke="#231f20" stroke-width="1.2" />
<line x1="588.4" y1="642.5" x2="598.4" y2="642.5" stroke="#231f20" stroke-width="1.3" />
<line x1="605.58" y1="648.1" x2="605.58" y2="636.4" stroke="#231f20" stroke-width="1.2" />
<line x1="600.58" y1="636.4" x2="610.58" y2="636.4" stroke="#231f20" stroke-width="1.3" />
<line x1="605.58" y1="648.1" x2="605.58" y2="663.3" stroke="#231f20" stroke-width="1.2" />
<line x1="600.58" y1="663.3" x2="610.58" y2="663.3" stroke="#231f20" stroke-width="1.3" />
<circle cx="398.6" cy="803.9" r="4.75" fill="#fff" stroke="#e2211c" stroke-width="1.6"/>
<circle cx="410.78" cy="759" r="4.75" fill="#fff" stroke="#e2211c" stroke-width="1.6"/>
<circle cx="422.95" cy="711" r="4.75" fill="#fff" stroke="#e2211c" stroke-width="1.6"/>
<circle cx="435.13" cy="685.5" r="4.75" fill="#fff" stroke="#e2211c" stroke-width="1.6"/>
<circle cx="447.3" cy="668.2" r="4.75" fill="#fff" stroke="#e2211c" stroke-width="1.6"/>
<circle cx="459.48" cy="660.2" r="4.75" fill="#fff" stroke="#e2211c" stroke-width="1.6"/>
<circle cx="471.65" cy="656.5" r="4.75" fill="#fff" stroke="#e2211c" stroke-width="1.6"/>
<circle cx="483.83" cy="656.3" r="4.75" fill="#fff" stroke="#e2211c" stroke-width="1.6"/>
<circle cx="496" cy="664.2" r="4.75" fill="#fff" stroke="#e2211c" stroke-width="1.6"/>
<circle cx="508.18" cy="654.6" r="4.75" fill="#fff" stroke="#e2211c" stroke-width="1.6"/>
<circle cx="520.35" cy="655.5" r="4.75" fill="#fff" stroke="#e2211c" stroke-width="1.6"/>
<circle cx="532.53" cy="655" r="4.75" fill="#fff" stroke="#e2211c" stroke-width="1.6"/>
<circle cx="544.7" cy="656.3" r="4.75" fill="#fff" stroke="#e2211c" stroke-width="1.6"/>
<circle cx="556.88" cy="657.1" r="4.75" fill="#fff" stroke="#e2211c" stroke-width="1.6"/>
<circle cx="569.05" cy="658.9" r="4.75" fill="#fff" stroke="#e2211c" stroke-width="1.6"/>
<circle cx="581.23" cy="650.7" r="4.75" fill="#fff" stroke="#e2211c" stroke-width="1.6"/>
<circle cx="593.4" cy="655.4" r="4.75" fill="#fff" stroke="#e2211c" stroke-width="1.6"/>
<circle cx="605.58" cy="648.1" r="4.75" fill="#fff" stroke="#e2211c" stroke-width="1.6"/>
<text x="385.93" y="686.1" font-size="12" text-anchor="middle" font-weight="bold" fill="#231f20" >-130</text>
<text x="434.63" y="686.1" font-size="12" text-anchor="middle" font-weight="bold" fill="#231f20" >-90</text>
<text x="483.33" y="686.1" font-size="12" text-anchor="middle" font-weight="bold" fill="#231f20" >-50</text>
<text x="532.03" y="686.1" font-size="12" text-anchor="middle" font-weight="bold" fill="#231f20" >-10</text>
<text x="556.88" y="686.1" font-size="12" text-anchor="middle" font-weight="bold" fill="#231f20" >10</text>
<text x="581.23" y="686.1" font-size="12" text-anchor="middle" font-weight="bold" fill="#231f20" >30</text>
<text x="605.58" y="686.1" font-size="12" text-anchor="middle" font-weight="bold" fill="#231f20" >50</text>
<text x="422.4" y="748" font-size="17" text-anchor="middle" font-weight="bold" fill="#231f20" >*</text>
<text x="410.3" y="804.5" font-size="17" text-anchor="middle" font-weight="bold" fill="#231f20" >*</text>
<text x="398.2" y="858.5" font-size="17" text-anchor="middle" font-weight="bold" fill="#231f20" >*</text>
<line x1="606.1" y1="569.8" x2="629.8" y2="569.8" stroke="#231f20" stroke-width="1.3" />
<rect x="613.9" y="565.6" width="8.4" height="8.4" fill="none" stroke="#1aa0d8" stroke-width="1.4"/>
<line x1="606.1" y1="585.9" x2="629.8" y2="585.9" stroke="#231f20" stroke-width="1.3" />
<circle cx="618" cy="585.9" r="4.6" fill="none" stroke="#e2211c" stroke-width="1.5"/>
<text x="637.3" y="574.2" font-size="12" text-anchor="start" font-weight="bold" fill="#231f20" >DMSO</text>
<text x="637.3" y="590.8" font-size="12" text-anchor="start" font-weight="bold" fill="#231f20" >Toma</text>
</svg>
</body></html>
